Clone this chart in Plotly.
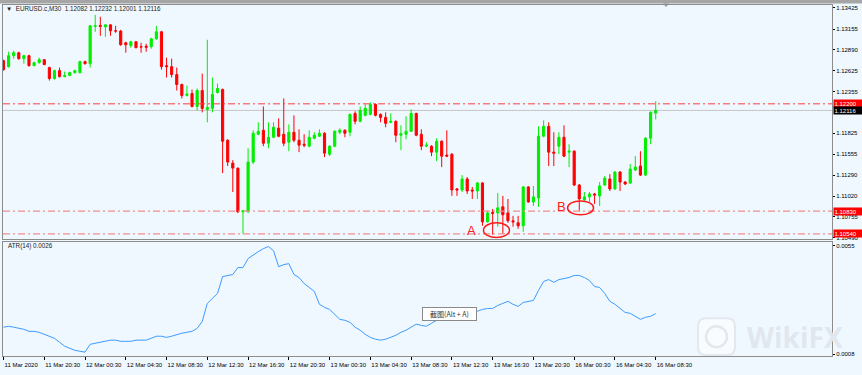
import plotly.graph_objects as go

# ---------------- data ----------------
symbol = "EURUSD.c,M30"
opens = [1.12752,1.12675,1.12815,1.12853,1.12777,1.12815,1.12688,1.12726,1.12764,1.12663,
         1.12523,1.12624,1.12548,1.12561,1.12599,1.12599,1.12739,1.12713,1.13190,1.13202,
         1.13184,1.13209,1.13133,1.13130,1.12980,1.12942,1.12993,1.12930,1.12936,1.12930,
         1.13031,1.13120,1.12688,1.12675,1.12574,1.12447,1.12307,1.12332,1.12167,1.12370,
         1.12129,1.12142,1.12345,1.12383,1.11735,1.11443,1.11379,1.10820,1.10820,1.11456,
         1.11811,1.11862,1.11697,1.11773,1.11888,1.11811,1.11710,1.11837,1.11735,1.11684,
         1.11659,1.11761,1.11786,1.11824,1.11557,1.11659,1.11837,1.11862,1.11837,1.12078,
         1.11977,1.12053,1.12065,1.12192,1.12065,1.12027,1.11964,1.11977,1.11799,1.11811,
         1.11849,1.12078,1.11811,1.11659,1.11659,1.11583,1.11722,1.11545,1.11557,1.11113,
         1.11100,1.11240,1.11100,1.11087,1.11189,1.10693,1.10814,1.10807,1.10884,1.10807,
         1.10706,1.10681,1.10642,1.11138,1.10947,1.10998,1.11786,1.11913,1.11583,1.11659,
         1.11773,1.11583,1.11595,1.11163,1.10973,1.11011,1.11049,1.11024,1.11163,1.11240,
         1.11113,1.11329,1.11201,1.11189,1.11354,1.11405,1.11290,1.11761,1.12082]
highs = [1.12764,1.12866,1.12879,1.12866,1.12828,1.12828,1.12739,1.12790,1.12770,1.12675,
         1.12637,1.12663,1.12612,1.12612,1.12637,1.12752,1.12752,1.13209,1.13336,1.13311,
         1.13215,1.13215,1.13196,1.13145,1.12993,1.13006,1.13000,1.12980,1.12968,1.13044,
         1.13196,1.13133,1.12790,1.12777,1.12663,1.12459,1.12434,1.12383,1.12396,1.12586,
         1.13018,1.12536,1.12459,1.12396,1.11748,1.11481,1.11385,1.10846,1.11633,1.11862,
         1.11964,1.12167,1.11964,1.11964,1.12015,1.12269,1.11938,1.12053,1.11875,1.11811,
         1.11862,1.11837,1.11875,1.11837,1.11672,1.11862,1.11888,1.11875,1.12078,1.12104,
         1.12167,1.12192,1.12218,1.12205,1.12078,1.12091,1.12078,1.11989,1.11926,1.12040,
         1.12129,1.12085,1.11875,1.11710,1.11672,1.11761,1.11735,1.11862,1.11570,1.11125,
         1.11290,1.11265,1.11138,1.11201,1.11201,1.10833,1.10858,1.11062,1.11024,1.10985,
         1.10769,1.10769,1.11151,1.11151,1.11151,1.11913,1.11989,1.11964,1.11837,1.11837,
         1.11926,1.11684,1.11608,1.11176,1.11074,1.11074,1.11062,1.11201,1.11278,1.11303,
         1.11341,1.11341,1.11214,1.11430,1.11532,1.11595,1.11773,1.12104,1.12232]
lows = [1.12624,1.12663,1.12777,1.12764,1.12713,1.12675,1.12680,1.12713,1.12695,1.12497,
        1.12510,1.12536,1.12540,1.12555,1.12586,1.12586,1.12701,1.12663,1.13120,1.13069,
        1.13057,1.13069,1.13107,1.12942,1.12853,1.12917,1.12910,1.12853,1.12866,1.12904,
        1.13018,1.12637,1.12536,1.12536,1.12370,1.12269,1.12294,1.12154,1.12116,1.12091,
        1.11964,1.12091,1.12332,1.11316,1.11405,1.11074,1.10807,1.10541,1.10810,1.11430,
        1.11799,1.11659,1.11633,1.11761,1.11773,1.11659,1.11595,1.11710,1.11583,1.11646,
        1.11646,1.11748,1.11780,1.11519,1.11532,1.11646,1.11811,1.11773,1.11786,1.11938,
        1.11964,1.12040,1.12053,1.12040,1.11964,1.11900,1.11951,1.11710,1.11608,1.11748,
        1.11840,1.11786,1.11608,1.11646,1.11532,1.11468,1.11392,1.11519,1.11024,1.11024,
        1.11074,1.11049,1.10985,1.10985,1.10642,1.10681,1.10528,1.10630,1.10541,1.10681,
        1.10630,1.10604,1.10566,1.10935,1.10896,1.10884,1.11773,1.11405,1.11405,1.11557,
        1.11519,1.11392,1.11151,1.10833,1.10960,1.10947,1.10922,1.10896,1.11151,1.11087,
        1.11100,1.11087,1.11163,1.11176,1.11341,1.11278,1.11278,1.11684,1.12001]
closes = [1.12637,1.12815,1.12853,1.12777,1.12815,1.12688,1.12726,1.12764,1.12701,1.12523,
          1.12624,1.12548,1.12561,1.12599,1.12624,1.12739,1.12713,1.13196,1.13196,1.13190,
          1.13209,1.13133,1.13130,1.12955,1.12955,1.12993,1.12917,1.12927,1.12923,1.13031,
          1.13120,1.12675,1.12675,1.12574,1.12447,1.12307,1.12326,1.12167,1.12370,1.12142,
          1.12154,1.12320,1.12396,1.11722,1.11456,1.11379,1.10820,1.10833,1.11456,1.11824,
          1.11849,1.11697,1.11773,1.11900,1.11786,1.11697,1.11837,1.11735,1.11672,1.11672,
          1.11773,1.11799,1.11824,1.11570,1.11659,1.11849,1.11862,1.11824,1.12065,1.11977,
          1.12116,1.12142,1.12192,1.12053,1.12027,1.11951,1.11977,1.11799,1.11818,1.11849,
          1.12078,1.11799,1.11659,1.11672,1.11583,1.11722,1.11532,1.11532,1.11100,1.11100,
          1.11240,1.11087,1.11087,1.11189,1.10693,1.10807,1.10801,1.10871,1.10782,1.10706,
          1.10693,1.10642,1.11138,1.10947,1.11011,1.11786,1.11913,1.11583,1.11570,1.11773,
          1.11532,1.11595,1.11163,1.10985,1.11011,1.11049,1.11036,1.11151,1.11252,1.11113,
          1.11329,1.11201,1.11176,1.11367,1.11392,1.11290,1.11761,1.12091,1.12116]
atr = [0.00197,0.00201,0.00197,0.00192,0.00188,0.00179,0.00179,0.00175,0.00166,0.00158,
       0.00149,0.00132,0.00115,0.00106,0.00097,0.00093,0.00089,0.00123,0.00128,0.00132,
       0.00136,0.00141,0.00141,0.00136,0.00136,0.00136,0.00141,0.00141,0.00141,0.00149,
       0.00158,0.00158,0.00153,0.00158,0.00166,0.00171,0.00175,0.00179,0.00192,0.00222,
       0.00300,0.00322,0.00343,0.00416,0.00421,0.00425,0.00455,0.00455,0.00494,0.00511,
       0.00524,0.00537,0.00546,0.00528,0.00459,0.00468,0.00472,0.00425,0.00412,0.00386,
       0.00369,0.00352,0.00296,0.00283,0.00274,0.00253,0.00231,0.00227,0.00218,0.00197,
       0.00184,0.00166,0.00153,0.00145,0.00141,0.00145,0.00153,0.00162,0.00175,0.00184,
       0.00197,0.00210,0.00205,0.00201,0.00214,0.00227,0.00235,0.00244,0.00248,0.00253,
       0.00257,0.00257,0.00261,0.00266,0.00274,0.00278,0.00278,0.00291,0.00300,0.00309,
       0.00296,0.00287,0.00304,0.00309,0.00313,0.00356,0.00395,0.00403,0.00391,0.00403,
       0.00408,0.00412,0.00421,0.00421,0.00412,0.00399,0.00373,0.00369,0.00343,0.00309,
       0.00296,0.00278,0.00261,0.00257,0.00244,0.00231,0.00240,0.00244,0.00256]
time_labels = ["11 Mar 2020", "11 Mar 20:30", "12 Mar 00:30", "12 Mar 04:30", "12 Mar 08:30",
               "12 Mar 12:30", "12 Mar 16:30", "12 Mar 20:30", "13 Mar 00:30", "13 Mar 04:30",
               "13 Mar 08:30", "13 Mar 12:30", "13 Mar 16:30", "13 Mar 20:30", "16 Mar 00:30",
               "16 Mar 04:30", "16 Mar 08:30"]
price_ticks = [1.13425, 1.13155, 1.12890, 1.12625, 1.12355, 1.11825, 1.11555,
               1.11290, 1.11020, 1.10755, 1.10490]
atr_ticks = [0.0055, 0.0008]
top_level = 1.12200
support_levels = [1.10830, 1.10540]

# ---------------- figure ----------------
W, H = 862, 375
bars = list(range(len(opens)))
FONT = "Liberation Sans"
GREEN = "#00EE00"
RED = "#FF0000"

fig = go.Figure()
fig.add_trace(go.Candlestick(
    x=bars, open=opens, high=highs, low=lows, close=closes,
    increasing=dict(line=dict(color=GREEN, width=1), fillcolor=GREEN),
    decreasing=dict(line=dict(color=RED, width=1), fillcolor=RED),
    whiskerwidth=0, xaxis="x", yaxis="y", hoverinfo="skip"))
fig.add_trace(go.Scatter(
    x=bars, y=atr, mode="lines", line=dict(color="#3D9BFF", width=1),
    xaxis="x2", yaxis="y2", hoverinfo="skip"))

xdom = [3 / W, 832 / W]
xr = [-0.1, 162.6]
frame = dict(showline=True, mirror=True, linecolor="#8C8C8C", linewidth=1,
             showgrid=False, zeroline=False)

fig.update_layout(
    width=W, height=H, margin=dict(l=0, r=0, t=0, b=0),
    paper_bgcolor="#F0F8FF", plot_bgcolor="#F0F8FF", showlegend=False,
    font=dict(family=FONT, size=6, color="#000000"),
    boxgap=0.4, boxgroupgap=0.3,
    xaxis=dict(domain=xdom, range=xr, anchor="y", showticklabels=False, ticks="",
               rangeslider=dict(visible=False), **frame),
    yaxis=dict(domain=[1 - 240 / H, 1 - 5 / H], range=[1.10477, 1.13463], anchor="x",
               side="right", tickvals=price_ticks,
               ticktext=[f"{v:.5f}" for v in price_ticks],
               ticks="outside", ticklen=2, tickcolor="#000", **frame),
    xaxis2=dict(domain=xdom, range=xr, anchor="y2",
                tickvals=[i * 8 for i in range(len(time_labels))], ticktext=time_labels,
                ticks="outside", ticklen=3, tickcolor="#000", tickangle=0,
                ticklabelposition="outside right", ticklabelstandoff=3, **frame),
    yaxis2=dict(domain=[1 - 358 / H, 1 - 243 / H], range=[0.00072, 0.00567], anchor="x2",
                side="right", tickvals=atr_ticks, ticktext=[f"{v:.4f}" for v in atr_ticks],
                ticks="outside", ticklen=2, tickcolor="#000", **frame),
)

shapes = []
# top window strip
shapes.append(dict(type="rect", xref="paper", yref="paper", x0=0, x1=1, y0=1 - 3.5 / H, y1=1,
                   fillcolor="#A5A5A5", line=dict(width=0), layer="above"))
# chart shift marker
shapes.append(dict(type="path", xref="paper", yref="paper",
                   path=f"M {663/W},{1-3.5/H} L {669/W},{1-3.5/H} L {666/W},{1-7/H} Z",
                   fillcolor="#909090", line=dict(width=0)))
# bid line
shapes.append(dict(type="line", xref="x domain", yref="y", x0=0, x1=1,
                   y0=closes[-1], y1=closes[-1], line=dict(color="#C4C4C4", width=1),
                   layer="below"))
# resistance line
shapes.append(dict(type="line", xref="x domain", yref="y", x0=0, x1=1,
                   y0=top_level, y1=top_level,
                   line=dict(color="#FF3B3B", width=1, dash="7px,3px,2px,3px")))
for lv in support_levels:
    shapes.append(dict(type="line", xref="x domain", yref="y", x0=0, x1=1, y0=lv, y1=lv,
                       line=dict(color="#F28C8C", width=1.2, dash="7px,3px,2px,3px")))
# A / B ellipses
shapes.append(dict(type="circle", xref="x", yref="y", x0=94.2, x1=99.3, y0=1.10492, y1=1.10680,
                   line=dict(color="#FF1A1A", width=1.5)))
shapes.append(dict(type="circle", xref="x", yref="y", x0=110.7, x1=115.8, y0=1.10782, y1=1.10960,
                   line=dict(color="#FF1A1A", width=1.5)))
# WikiFX logo (rounded square)
lx0, lx1, ly0, ly1 = 698 / W, 735 / W, 1 - 357 / H, 1 - 320 / H
rx, ry = 8 / W, 8 / H
shapes.append(dict(type="path", xref="paper", yref="paper",
                   path=(f"M {lx0+rx},{ly0} L {lx1-rx},{ly0} Q {lx1},{ly0} {lx1},{ly0+ry} "
                         f"L {lx1},{ly1-ry} Q {lx1},{ly1} {lx1-rx},{ly1} L {lx0+rx},{ly1} "
                         f"Q {lx0},{ly1} {lx0},{ly1-ry} L {lx0},{ly0+ry} Q {lx0},{ly0} {lx0+rx},{ly0} Z"),
                   line=dict(color="#E2E8EE", width=2), fillcolor="rgba(255,255,255,0.5)"))
shapes.append(dict(type="circle", xref="paper", yref="paper",
                   x0=706 / W, x1=727 / W, y0=1 - 349 / H, y1=1 - 328 / H,
                   line=dict(color="#E2E8EE", width=2.5)))
fig.update_layout(shapes=shapes)

ann = []
title = (f"\u25BC  {symbol}  {opens[-1]:.5f} {highs[-1]:.5f} "
         f"{lows[-1]:.5f} {closes[-1]:.5f}")
ann.append(dict(text=title, xref="paper", yref="paper", x=4 / W, y=1 - 8.5 / H,
                xanchor="left", yanchor="middle", showarrow=False,
                font=dict(family=FONT, size=6.3, color="#222")))
ann.append(dict(text=f"ATR(14) {atr[-1]:.4f}", xref="paper", yref="paper", x=6 / W,
                y=1 - 247 / H, xanchor="left", yanchor="middle", showarrow=False,
                font=dict(family=FONT, size=6.3, color="#222")))
# price tags on the right axis
for lv, col in [(top_level, RED), (closes[-1], "#000000")] + [(s, RED) for s in support_levels]:
    ann.append(dict(text=f"{lv:.5f}", xref="paper", yref="y", x=833 / W, y=lv,
                    xanchor="left", yanchor="middle", showarrow=False, bgcolor=col,
                    font=dict(family=FONT, size=6, color="#FFFFFF"), borderpad=0.5,
                    width=27, align="left"))
ann.append(dict(text="A", xref="x", yref="y", x=91.9, y=1.10579, showarrow=False,
                font=dict(family=FONT, size=13, color="#FF1A1A")))
ann.append(dict(text="B", xref="x", yref="y", x=109.5, y=1.10890, showarrow=False,
                font=dict(family=FONT, size=13, color="#FF1A1A")))
# screenshot tooltip
ann.append(dict(text="截图(Alt + A)", xref="paper", yref="paper", x=449.5 / W, y=1 - 316 / H,
                xanchor="center", yanchor="middle", showarrow=False, bgcolor="#FFFFFF",
                bordercolor="#8A8A8A", borderwidth=1, borderpad=1, width=51, height=10,
                font=dict(family="Noto Sans CJK SC", size=7, color="#333")))
# watermark
ann.append(dict(text="<b>WikiFX</b>", xref="paper", yref="paper", x=795 / W, y=1 - 339 / H,
                xanchor="center", yanchor="middle", showarrow=False,
                font=dict(family="Open Sans", size=28, color="#E0E7EE")))
fig.update_layout(annotations=ann)

fig.write_html("out.html", config={"displayModeBar": False},
               post_script="document.body.style.margin='0';document.body.style.overflow='hidden';")
